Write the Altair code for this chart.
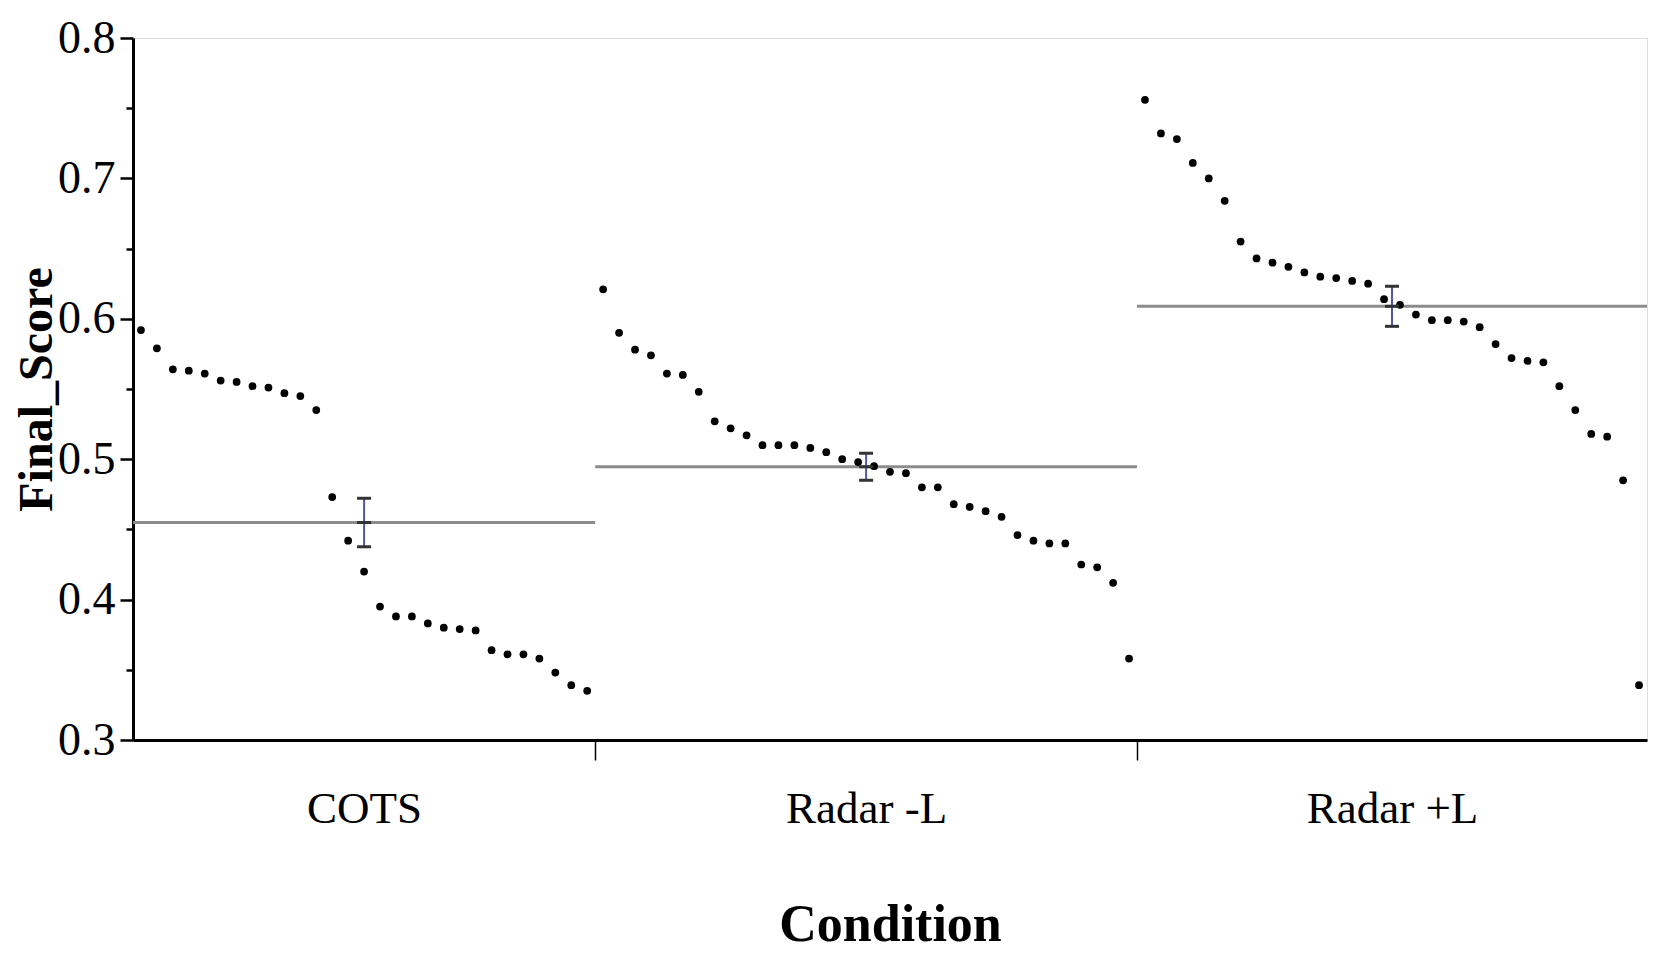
import altair as alt
import pandas as pd

# ---- data (points sorted high -> low within each group) ----
conditions = ["COTS", "Radar -L", "Radar +L"]

cots = [0.592, 0.579, 0.564, 0.563, 0.561, 0.556, 0.555, 0.552, 0.551, 0.547,
        0.545, 0.535, 0.473, 0.442, 0.420, 0.395, 0.388, 0.388, 0.383, 0.380,
        0.379, 0.378, 0.364, 0.361, 0.361, 0.358, 0.348, 0.339, 0.335]

radar_minus_l = [0.621, 0.590, 0.578, 0.574, 0.561, 0.560, 0.548, 0.527, 0.522, 0.517,
                 0.510, 0.510, 0.510, 0.508, 0.505, 0.500, 0.498, 0.495, 0.491, 0.490,
                 0.480, 0.480, 0.468, 0.466, 0.463, 0.459, 0.446, 0.442, 0.440, 0.440,
                 0.425, 0.423, 0.412, 0.358]

radar_plus_l = [0.756, 0.732, 0.728, 0.711, 0.700, 0.684, 0.655, 0.643, 0.640, 0.637,
                0.633, 0.630, 0.629, 0.627, 0.625, 0.614, 0.610, 0.603, 0.599, 0.599,
                0.598, 0.594, 0.582, 0.572, 0.570, 0.569, 0.552, 0.535, 0.518, 0.516,
                0.485, 0.339]

y_ticks = [0.3, 0.35, 0.4, 0.45, 0.5, 0.55, 0.6, 0.65, 0.7, 0.75, 0.8]

# ---- build table: each observation gets one slot along x, groups sized by n ----
rows = []
offset = 0
boundaries = []
centers = []
for name, vals in zip(conditions, [cots, radar_minus_l, radar_plus_l]):
    n = len(vals)
    for i, v in enumerate(vals):
        rows.append({"Condition": name, "slot": offset + i + 0.5, "Final_Score": v,
                     "x0": offset, "x1": offset + n, "center": offset + n / 2})
    centers.append(offset + n / 2)
    offset += n
    boundaries.append(offset)
total = offset
df = pd.DataFrame(rows)

inner_bounds = boundaries[:-1]
label_expr = " : ".join(
    [f"datum.value == {c} ? '{name}'" for c, name in zip(centers, conditions)]
) + " : ''"
bound_test = " || ".join([f"datum.value == {b}" for b in inner_bounds])

FONT = "Liberation Serif"

x_scale = alt.Scale(domain=[0, total], nice=False, zero=False)
y_scale = alt.Scale(domain=[0.3, 0.8], nice=False, zero=False)

x_axis = alt.Axis(
    values=sorted(centers + inner_bounds),
    labelExpr=label_expr,
    title="Condition",
    grid=False,
    tickSize=20,
    tickWidth=1.5,
    tickColor="black",
    tickOpacity={"condition": {"test": bound_test, "value": 1}, "value": 0},
    domainColor="black",
    domainWidth=3,
    labelFont=FONT,
    labelFontSize=45,
    labelColor="black",
    labelPadding=26,
    labelFlush=False,
    labelOverlap=False,
    titleFont=FONT,
    titleFontSize=52,
    titleFontWeight="bold",
    titleColor="black",
    titlePadding=68,
)

major_test = "abs(datum.value * 10 - round(datum.value * 10)) < 0.001"
y_axis = alt.Axis(
    values=y_ticks,
    labelExpr=f"{major_test} ? format(datum.value, '.1f') : ''",
    title="Final_Score",
    grid=False,
    tickSize={"condition": {"test": major_test, "value": 13}, "value": 7},
    tickWidth=2.5,
    tickColor="black",
    domainColor="black",
    domainWidth=3,
    labelFont=FONT,
    labelFontSize=46,
    labelColor="black",
    labelPadding=5,
    labelFlush=False,
    labelOverlap=False,
    titleFont=FONT,
    titleFontSize=48,
    titleFontWeight="bold",
    titleColor="black",
    titleBaseline="alphabetic",
    titleX=-82,
)

base = alt.Chart(df)

points = base.mark_circle(size=60, color="black", opacity=1).encode(
    x=alt.X("slot:Q", scale=x_scale, axis=x_axis),
    y=alt.Y("Final_Score:Q", scale=y_scale, axis=y_axis),
)

stats = base.transform_aggregate(
    mean="mean(Final_Score)",
    se="stderr(Final_Score)",
    groupby=["Condition", "x0", "x1", "center"],
).transform_calculate(
    lo="datum.mean - datum.se",
    hi="datum.mean + datum.se",
)

mean_lines = stats.mark_rule(color="#8c8c8c", strokeWidth=3).encode(
    x="x0:Q", x2="x1:Q", y="mean:Q"
)

err_stem = stats.mark_rule(color="#5555a8", strokeWidth=2).encode(
    x="center:Q", y="lo:Q", y2="hi:Q"
)

err_caps = stats.transform_fold(["lo", "hi", "mean"], as_=["which", "val"]).mark_tick(
    orient="horizontal", size=14, thickness=3, color="#333333", opacity=1
).encode(x="center:Q", y="val:Q")

chart = alt.layer(mean_lines, points, err_stem, err_caps).properties(
    width=1514,
    height=702,
    padding={"left": 125, "top": 30, "right": 2, "bottom": 214},
    autosize="none",
).configure_view(stroke="black", strokeWidth=2).configure(background="white")

chart.save("out.html", embed_options={"renderer": "svg", "actions": False})
